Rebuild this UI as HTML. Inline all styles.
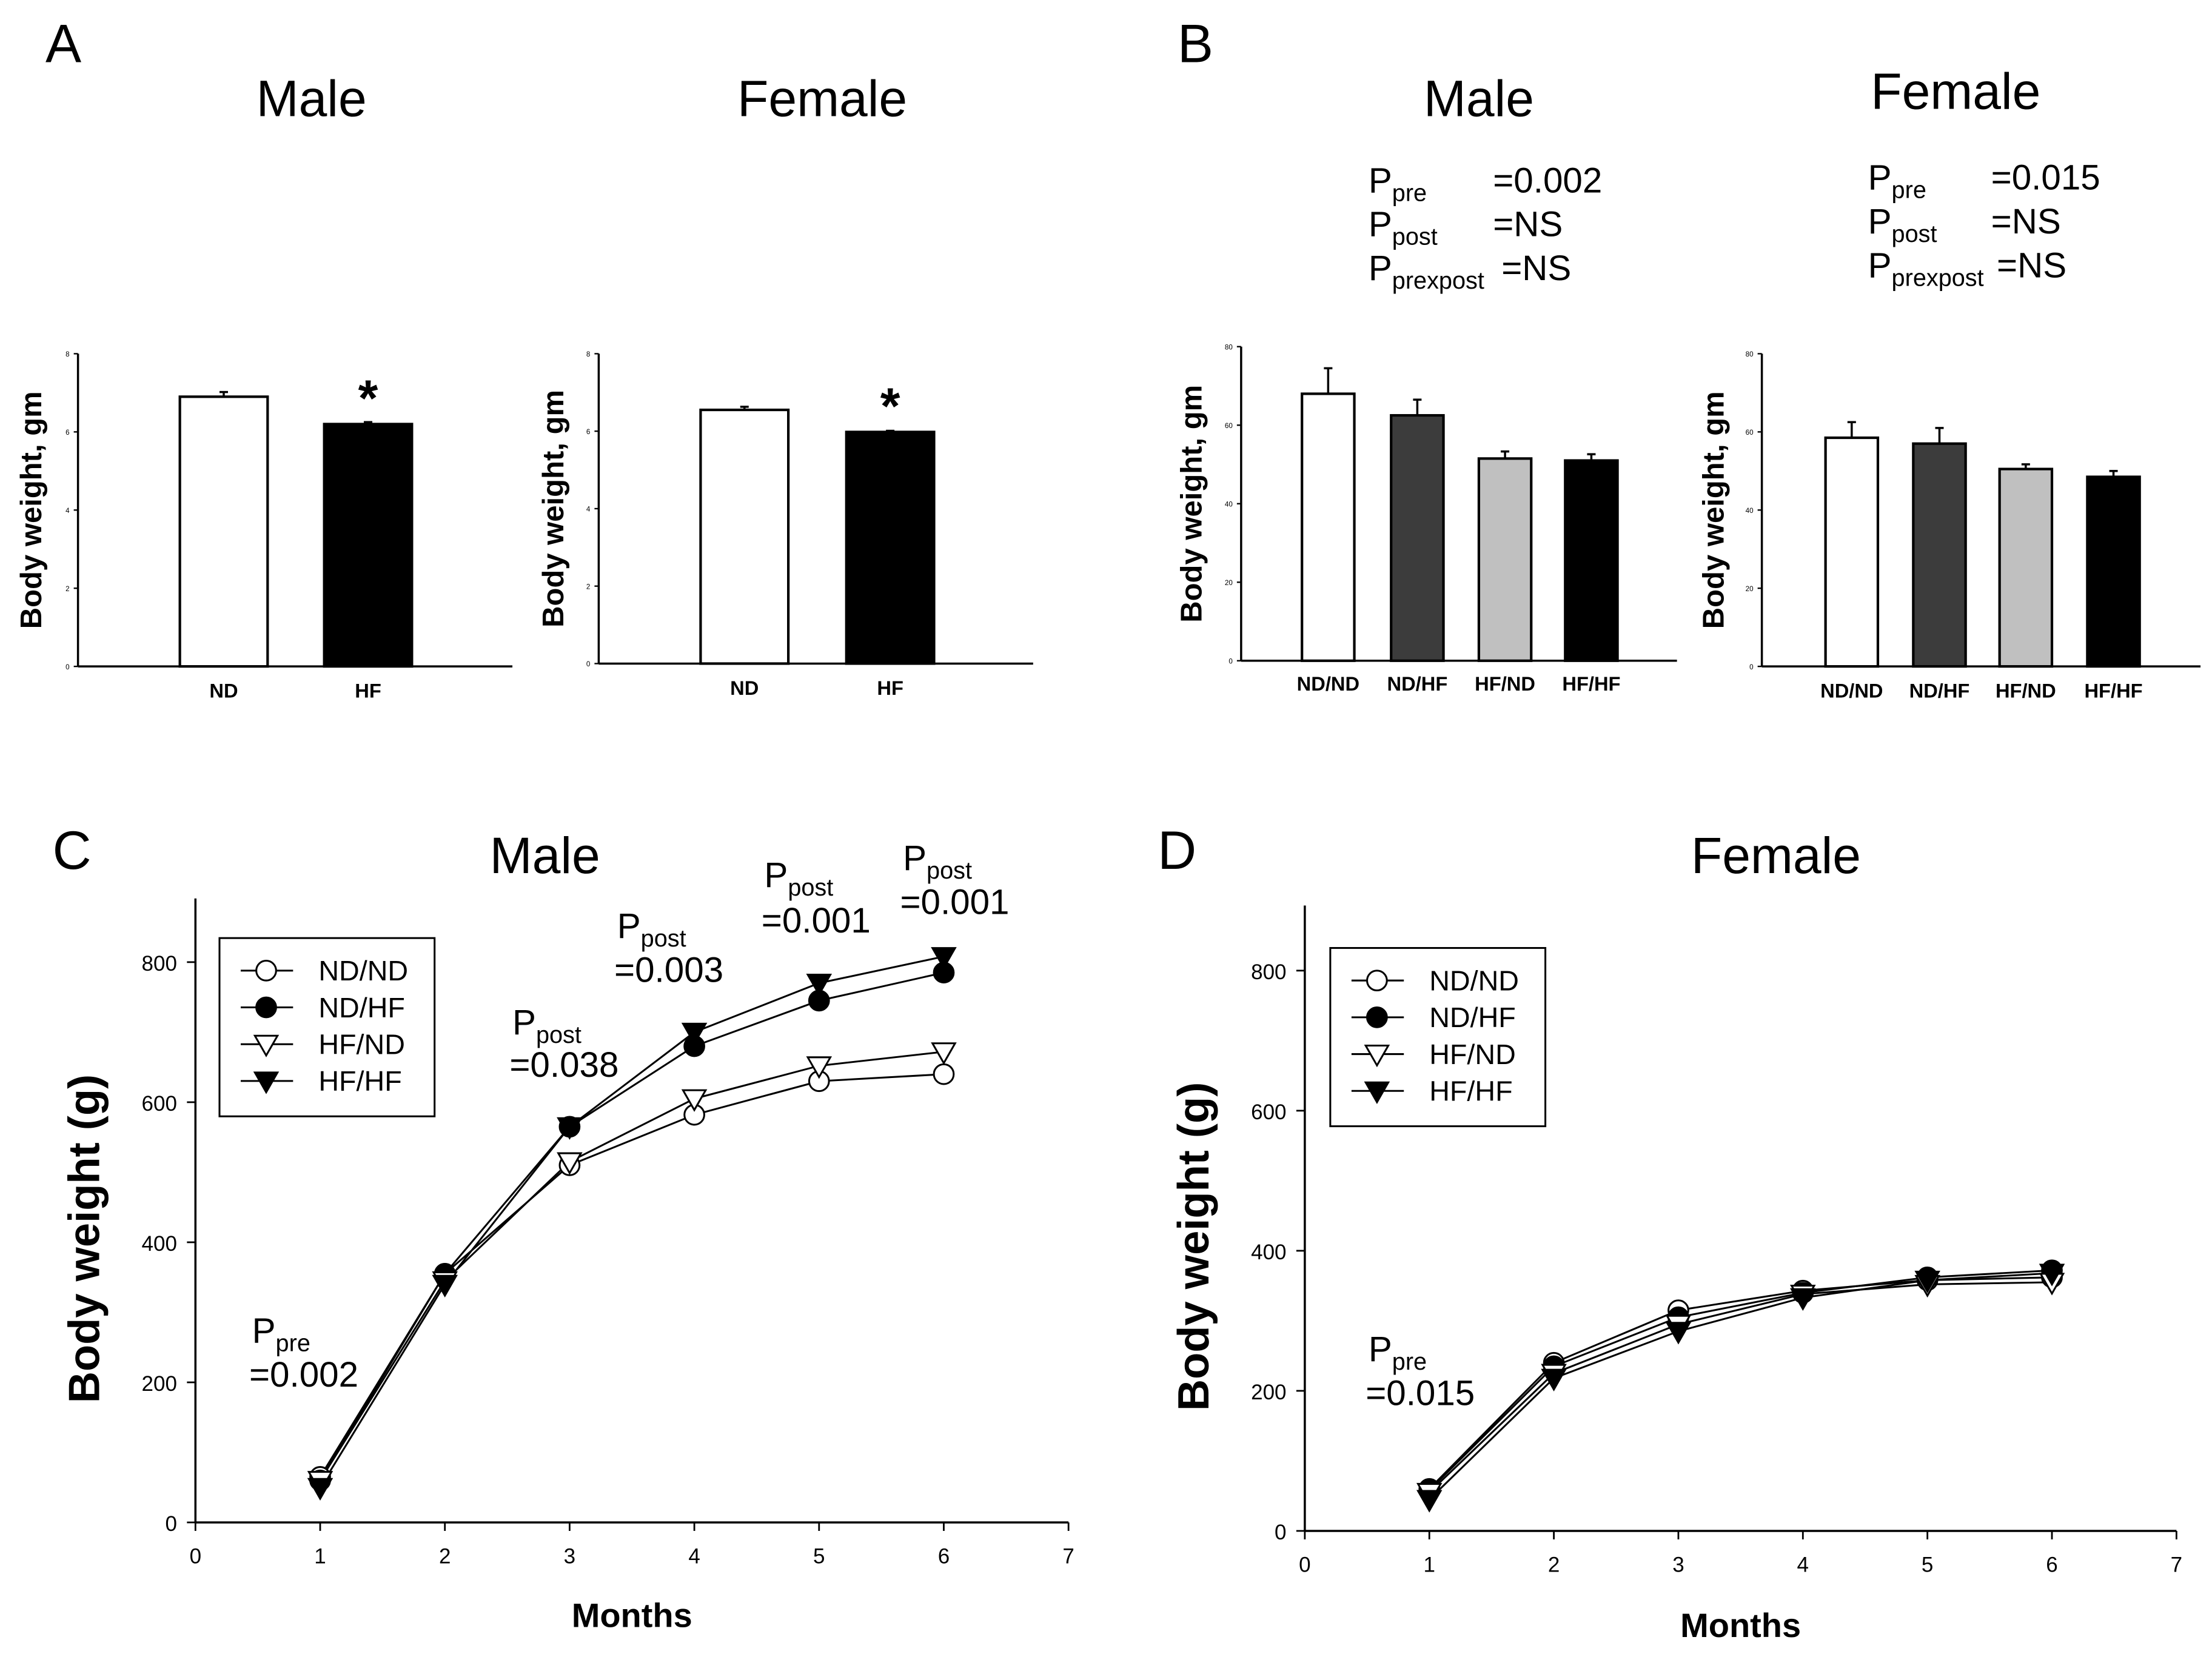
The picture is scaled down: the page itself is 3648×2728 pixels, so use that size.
<!DOCTYPE html>
<html><head><meta charset="utf-8"><style>
html,body{margin:0;padding:0;background:#fff}
svg{display:block}
text{font-family:"Liberation Sans",sans-serif;fill:#000}
</style></head><body>
<svg id="fig" width="3648" height="2728" viewBox="0 0 1563 1169" xmlns="http://www.w3.org/2000/svg">
<rect width="1563" height="1169" fill="#fff"/>
<g id="root"></g>
</svg>
<script>
// Panel A data
const aCats = ["ND","HF"];
const aMale = [6.9, 6.2];
const aMaleErr = [0.12, 0.05];
const aFemale = [6.55, 5.98];
const aFemaleErr = [0.08, 0.03];
const aTicks = [0,2,4,6,8];
// Panel B data
const bCats = ["ND/ND","ND/HF","HF/ND","HF/HF"];
const bMale = [68, 62.5, 51.5, 51];
const bMaleErr = [6.5, 4, 1.8, 1.6];
const bFemale = [58.5, 57, 50.5, 48.5];
const bFemaleErr = [4, 4, 1.2, 1.5];
const bTicks = [0,20,40,60,80];
const bFills = ["#ffffff","#3c3c3c","#c0c0c0","#000000"];
// Panels C/D data
const months = [1,2,3,4,5,6];
const xTicks = [0,1,2,3,4,5,6,7];
const yTicks = [0,200,400,600,800];
const seriesNames = ["ND/ND","ND/HF","HF/ND","HF/HF"];
const cNDND = [65,355,510,582,630,640];
const cNDHF = [60,355,565,680,745,785];
const cHFND = [60,345,515,605,652,672];
const cHFHF = [50,340,565,700,770,808];
const dNDND = [60,240,315,343,358,362];
const dNDHF = [58,235,305,340,362,372];
const dHFND = [55,225,295,338,352,355];
const dHFHF = [45,218,285,333,358,368];

const NS="http://www.w3.org/2000/svg";
const root=document.getElementById('root');
function el(tag,attrs,parent,txt){const e=document.createElementNS(NS,tag);for(const k in attrs)e.setAttribute(k,attrs[k]);if(txt!==undefined)e.textContent=txt;(parent||root).appendChild(e);return e;}

function txt(x,y,s,size,opts,name){
  const o=Object.assign({x:x,y:y,'font-size':size},opts||{});
  const t=el('text',o,root,s);
  
  
  return t;
}

txt(32,44,"A",38,{},'panel-a-label');
txt(832,44,"B",38,{},'panel-b-label');
txt(37,614,"C",38,{},'panel-c-label');
txt(818,614,"D",38,{},'panel-d-label');
txt(220,82,"Male",36,{'text-anchor':'middle'},'panel-a-male-title');
txt(581,82,"Female",36,{'text-anchor':'middle'},'panel-a-female-title');
txt(1045,82,"Male",36,{'text-anchor':'middle'},'panel-b-male-title');
txt(1382,77,"Female",36,{'text-anchor':'middle'},'panel-b-female-title');
txt(385,617,"Male",36,{'text-anchor':'middle'},'panel-c-title');
txt(1255,617,"Female",36,{'text-anchor':'middle'},'panel-d-title');

function pLabel(x,y,sub,val,vx,name){
  const t=el('text',{x:x,y:y,'font-size':25},root);
  
  
  el('tspan',{},t,"P");
  el('tspan',{'font-size':17,dy:6},t,sub);
  if(val!==null){
    el('tspan',{x:vx,dy:-6},t,val);
  }
}
pLabel(967,136,"pre","=0.002",1055,'b-male-p-pre');
pLabel(967,167,"post","=NS",1055,'b-male-p-post');
pLabel(967,198,"prexpost","=NS",1061,'b-male-p-prexpost');
pLabel(1320,134,"pre","=0.015",1407,'b-female-p-pre');
pLabel(1320,165,"post","=NS",1407,'b-female-p-post');
pLabel(1320,196,"prexpost","=NS",1411,'b-female-p-prexpost');

function barChart(cfg){
  const {ax,top,bot,right,vmax,ticks,cats,vals,errs,xs,w,fills,ylabX,labY,name,star}=cfg;
  const y=v=>bot-v/vmax*(bot-top);
  const g=el('g',{},root);
  
  
  el('line',{x1:ax,y1:top,x2:ax,y2:bot,stroke:'#000','stroke-width':1.5},g);
  el('line',{x1:ax,y1:bot,x2:right,y2:bot,stroke:'#000','stroke-width':1.5},g);
  ticks.forEach(t=>{
    el('line',{x1:ax-3,y1:y(t),x2:ax,y2:y(t),stroke:'#000','stroke-width':1},g);
    const tt=el('text',{x:ax-6,y:y(t)+2,'font-size':5,'text-anchor':'end'},g,t);
    
    
  });
  vals.forEach((v,i)=>{
    const r=el('rect',{x:xs[i],y:y(v),width:w,height:bot-y(v),fill:fills[i],stroke:'#000','stroke-width':1.8},g);
    
    
    const cx=xs[i]+w/2;
    el('line',{x1:cx,y1:y(v),x2:cx,y2:y(v+errs[i]),stroke:'#000','stroke-width':1.5},g);
    el('line',{x1:cx-3,y1:y(v+errs[i]),x2:cx+3,y2:y(v+errs[i]),stroke:'#000','stroke-width':1.5},g);
    const lt=el('text',{x:cx,y:labY,'font-size':14,'font-weight':'bold','text-anchor':'middle'},g,cats[i]);
    
    
  });
  const yl=el('text',{x:0,y:0,'font-size':21,'font-weight':'bold','text-anchor':'middle',transform:`translate(${ylabX},${(top+bot)/2}) rotate(-90)`},g,"Body weight, gm");
  
  
  if(star){
    star.forEach(i=>{
      const s=el('text',{x:xs[i]+w/2,y:y(vals[i])-6,'font-size':36,'font-weight':'bold','text-anchor':'middle'},g,"*");
      
      
    });
  }
}
barChart({ax:55,top:250,bot:471,right:362,vmax:8,ticks:aTicks,cats:aCats,vals:aMale,errs:aMaleErr,xs:[127,229],w:62,fills:["#fff","#000"],ylabX:29,labY:493,name:'panel-a-male-chart',star:[1]});
barChart({ax:423,top:250,bot:469,right:730,vmax:8,ticks:aTicks,cats:aCats,vals:aFemale,errs:aFemaleErr,xs:[495,598],w:62,fills:["#fff","#000"],ylabX:398,labY:491,name:'panel-a-female-chart',star:[1]});
barChart({ax:877,top:245,bot:467,right:1185,vmax:80,ticks:bTicks,cats:bCats,vals:bMale,errs:bMaleErr,xs:[920,983,1045,1106],w:37,fills:bFills,ylabX:849,labY:488,name:'panel-b-male-chart'});
barChart({ax:1245,top:250,bot:471,right:1555,vmax:80,ticks:bTicks,cats:bCats,vals:bFemale,errs:bFemaleErr,xs:[1290,1352,1413,1475],w:37,fills:bFills,ylabX:1218,labY:493,name:'panel-b-female-chart'});

function marker(g,kind,x,y,name){
  let m;
  if(kind===0) m=el('circle',{cx:x,cy:y,r:7,fill:'#fff',stroke:'#000','stroke-width':1.3},g);
  if(kind===1) m=el('circle',{cx:x,cy:y,r:7,fill:'#000',stroke:'#000','stroke-width':1.3},g);
  if(kind===2) m=el('path',{d:`M${x-8},${y-6} L${x+8},${y-6} L${x},${y+8} Z`,fill:'#fff',stroke:'#000','stroke-width':1.3},g);
  if(kind===3) m=el('path',{d:`M${x-8},${y-6} L${x+8},${y-6} L${x},${y+8} Z`,fill:'#000',stroke:'#000','stroke-width':1.3},g);
  
  
}

function lineChart(cfg){
  const {x0,x7,y0,y800,ytop,series,legX,legY,name,ylabX,monthsY}=cfg;
  const X=v=>x0+v/7*(x7-x0);
  const Y=v=>y0-v/800*(y0-y800);
  const g=el('g',{},root);
  
  
  el('line',{x1:x0,y1:ytop,x2:x0,y2:y0,stroke:'#000','stroke-width':1.5},g);
  el('line',{x1:x0,y1:y0,x2:x7,y2:y0,stroke:'#000','stroke-width':1.5},g);
  yTicks.forEach(t=>{
    el('line',{x1:x0-6,y1:Y(t),x2:x0,y2:Y(t),stroke:'#000','stroke-width':1.2},g);
    const tt=el('text',{x:x0-13,y:Y(t)+6,'font-size':15,'text-anchor':'end'},g,t);
    
    
  });
  xTicks.forEach(t=>{
    el('line',{x1:X(t),y1:y0,x2:X(t),y2:y0+6,stroke:'#000','stroke-width':1.2},g);
    const tt=el('text',{x:X(t),y:y0+29,'font-size':15,'text-anchor':'middle'},g,t);
    
    
  });
  series.forEach((s,k)=>{
    const pts=months.map((m,i)=>X(m)+','+Y(s[i])).join(' ');
    const pl=el('polyline',{points:pts,fill:'none',stroke:'#000','stroke-width':1.3},g);
    
    
  });
  series.forEach((s,k)=>{
    months.forEach((m,i)=>marker(g,k,X(m),Y(s[i]),'point-'+seriesNames[k].toLowerCase().replace('/','-')));
  });
  const lg=el('g',{},g);
  
  
  el('rect',{x:legX,y:legY,width:152,height:126,fill:'#fff',stroke:'#000','stroke-width':1.3},lg);
  seriesNames.forEach((n,k)=>{
    const yy=legY+23+k*26;
    el('line',{x1:legX+15,y1:yy,x2:legX+52,y2:yy,stroke:'#000','stroke-width':1.3},lg);
    marker(lg,k,legX+33,yy,'legend-marker');
    const lt=el('text',{x:legX+70,y:yy+7,'font-size':20},lg,n);
    
    
  });
  const ml=el('text',{x:(x0+x7)/2,y:monthsY,'font-size':24,'font-weight':'bold','text-anchor':'middle'},g,"Months");
  
  
  const yl=el('text',{x:0,y:0,'font-size':31,'font-weight':'bold','text-anchor':'middle',transform:`translate(${ylabX},${(ytop+y0)/2+20}) rotate(-90)`},g,"Body weight (g)");
  
  
}
lineChart({x0:138,x7:755,y0:1076,y800:680,ytop:635,series:[cNDND,cNDHF,cHFND,cHFHF],legX:155,legY:663,name:'panel-c-chart',ylabX:70,monthsY:1150});
lineChart({x0:922,x7:1538,y0:1082,y800:686,ytop:640,series:[dNDND,dNDHF,dHFND,dHFHF],legX:940,legY:670,name:'panel-d-chart',ylabX:854,monthsY:1157});

pLabel(178,949,"pre",null,0,'c-p-pre');
txt(176,980,"=0.002",25,{},'c-p-pre-value');
pLabel(362,731,"post",null,0,'c-p-post-3');
txt(360,761,"=0.038",25,{},'c-p-post-3-value');
pLabel(436,663,"post",null,0,'c-p-post-4');
txt(434,694,"=0.003",25,{},'c-p-post-4-value');
pLabel(540,627,"post",null,0,'c-p-post-5');
txt(538,659,"=0.001",25,{},'c-p-post-5-value');
pLabel(638,615,"post",null,0,'c-p-post-6');
txt(636,646,"=0.001",25,{},'c-p-post-6-value');
pLabel(967,962,"pre",null,0,'d-p-pre');
txt(965,993,"=0.015",25,{},'d-p-pre-value');
</script>
</body></html>
